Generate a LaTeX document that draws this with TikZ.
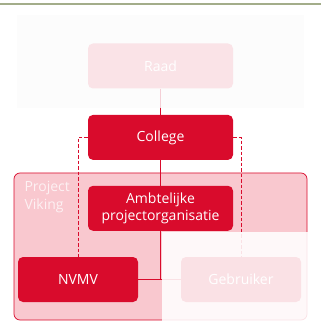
\documentclass[tikz,border=0pt]{standalone}
\usepackage{fontspec}
\setmainfont{Open Sans}
\usepackage{tikz}
\usetikzlibrary{positioning}
\definecolor{vred}{HTML}{D90B2C}
\definecolor{vpink}{HTML}{F9C8CF}
\definecolor{vtext}{HTML}{FDF1F3}
\definecolor{vline}{HTML}{A3AD8A}
\definecolor{vback}{HTML}{FCFCFC}
\definecolor{vfade}{HTML}{FAE3E7}
\definecolor{vfadeline}{HTML}{F4CFD6}
\tikzstyle{orgbox}=[rectangle,rounded corners=5pt,fill=vred,text=white,align=center,minimum width=145pt,minimum height=45pt,inner sep=1pt]
\tikzstyle{smallbox}=[orgbox,minimum width=120pt]
\tikzstyle{fadebox}=[fill=white,fill opacity=0.88,draw=none]

\begin{document}
\begin{tikzpicture}
	[x=1pt,y=-1pt,font=\fontsize{14}{17}\selectfont,node distance=26pt]
	\tikzstyle{conn}=[draw=vred,line width=0.9pt];
	\tikzstyle{dashconn}=[conn,dash pattern=on 3.5pt off 2pt];
	
	\useasboundingbox (0,0) rectangle (321,328);
	\draw[vline,line width=2pt] (0,4) -- (321,4);
	\fill[vback] (17,15) rectangle (304,108);
	\draw[vred,fill=vpink,rounded corners=6pt,line width=0.7pt] (14,173) rectangle (307,320);
	\node (viking) [anchor=north west,align=left,text=vtext,font=\fontsize{14}{18}\selectfont] at (21,178) {Project\\Viking};
	
	\node (raad) [orgbox,fill=vfade] at (160.5,66) {Raad};
	\node (college) [orgbox,below=of raad] {College};
	\node (ambt) [orgbox,below=of college,yshift=0.5pt] {Ambtelijke\\projectorganisatie};
	\node (nvmv) [smallbox] at (78,279.5) {NVMV};
	\node (gebr) [smallbox] at (241,279.5) {Gebruiker};
	\coordinate (split) at (ambt.south |- nvmv.east);
	\coordinate (edge) at (160.5,108);
	
	\draw[vfadeline,line width=0.9pt] (raad) -- (edge);
	\path[conn]
		(edge) -- (college)
		(college) -- (ambt)
		(ambt) -- (split)
		(nvmv.east) -- (gebr.west);
	\path[dashconn]
		(college.west) -| (nvmv.north)
		(college.east) -| (gebr.north);
	
	\path[fadebox] (162,232) rectangle (316,328);
\end{tikzpicture}
\end{document}
